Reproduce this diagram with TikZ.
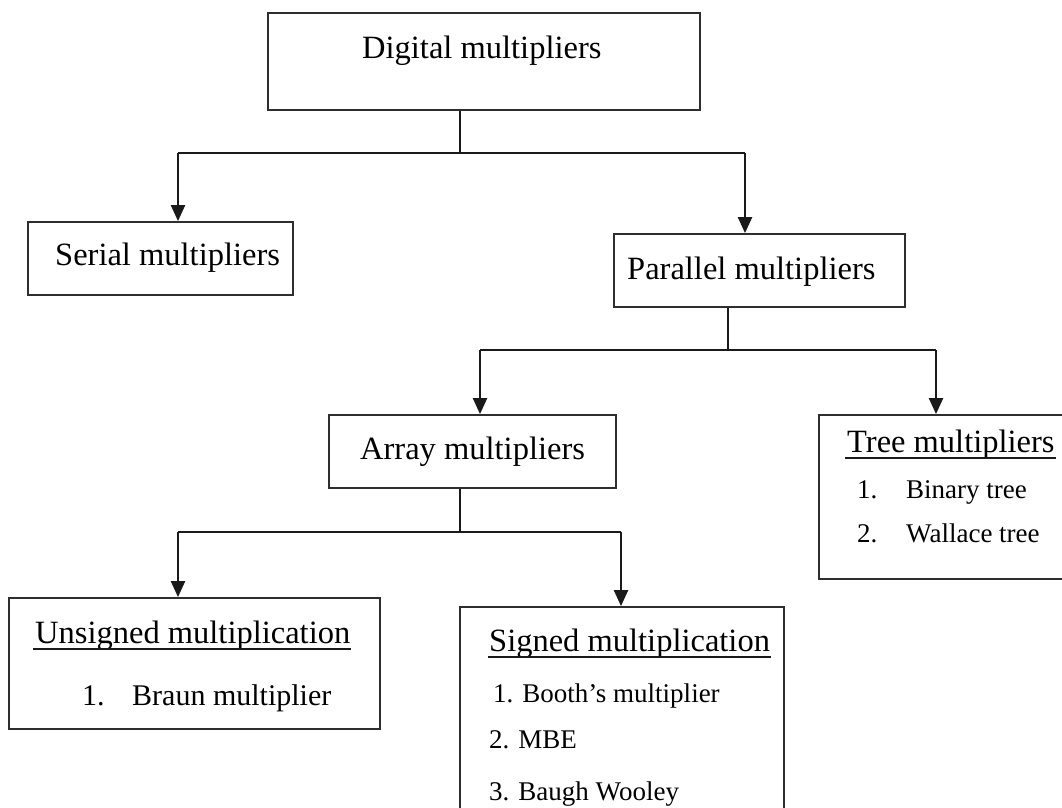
\documentclass[tikz,border=0pt]{standalone}
\usepackage{fontspec}
\setmainfont{Liberation Serif}
\usepackage{xcolor}
\usepackage{tikz}
\usetikzlibrary{arrows.meta,positioning,calc}
\definecolor{mlink}{HTML}{1A1A1A}
\definecolor{mlbox}{HTML}{2E2E2E}
\tikzset{
    blockbox/.style={rectangle, draw=mlbox, line width=1.8pt, inner sep=0pt},
    headtext/.style={font=\fontsize{32.5pt}{39pt}\selectfont,
        inner sep=0pt, anchor=base west},
    itemtext/.style={font=\fontsize{27pt}{32pt}\selectfont,
        inner sep=0pt, anchor=base west},
    treeline/.style={draw=mlink, line width=1.3pt},
    treearrow/.style={draw=mlink, line width=2.2pt,
        -{Triangle[length=16pt,width=14pt]}},
    underbar/.style={draw=mlink, line width=1.4pt},
}

\begin{document}
\begin{tikzpicture}[x=1pt, y=-1pt]

    \clip (0,0) rectangle (1062,807);

    % ── Boxes ──────────────────────────────────────────────────────────────
    \node[blockbox, minimum width=432pt, minimum height=97pt]  (digital)  at (484,61.5)  {};
    \node[blockbox, minimum width=265pt, minimum height=73pt]  (serial)   at (160.5,258.5) {};
    \node[blockbox, minimum width=291pt, minimum height=73pt]  (parallel) at (759.5,270.5) {};
    \node[blockbox, minimum width=287pt, minimum height=73pt]  (array)    at (472.5,451.5) {};
    \node[blockbox, minimum width=256pt, minimum height=164pt] (tree)     at (947,497)   {};
    \node[blockbox, minimum width=371pt, minimum height=131pt] (unsigned) at (194.5,663.5) {};
    \node[blockbox, minimum width=324pt, minimum height=223pt] (signed)   at (622,718.5) {};

    % ── Box titles ─────────────────────────────────────────────────────────
    \node[headtext] (digitaltxt)  at (362,58)  {Digital multipliers};
    \node[headtext] (serialtxt)   at (55,265)  {Serial multipliers};
    \node[headtext] (paralleltxt) at (627,279) {Parallel multipliers};
    \node[headtext] (arraytxt)    at (360,459) {Array multipliers};
    \node[headtext] (treetxt)     at (847,452) {Tree multipliers};
    \node[headtext] (unsignedtxt) at (35,643)  {Unsigned multiplication};
    \node[headtext] (signedtxt)   at (489,651) {Signed multiplication};

    % underlines
    \draw[underbar] ($(treetxt.base west)+(-2,6)$) -- ($(treetxt.base east)+(1,6)$);
    \draw[underbar] ($(unsignedtxt.base west)+(-2,6)$) -- ($(unsignedtxt.base east)+(1,6)$);
    \draw[underbar] ($(signedtxt.base west)+(-1,6)$) -- ($(signedtxt.base east)+(1,6)$);

    % ── Lists ──────────────────────────────────────────────────────────────
    \node[itemtext] (binary)  at (857,498) {\makebox[49pt][l]{1.}Binary tree};
    \node[itemtext] (wallace) at (857,542) {\makebox[49pt][l]{2.}Wallace tree};
    \node[itemtext, font=\fontsize{30pt}{36pt}\selectfont]
        (braun) at (82,705) {\makebox[50pt][l]{1.}Braun multiplier};
    \node[itemtext] (booth) at (493,702) {1. Booth’s multiplier};
    \node[itemtext] (mbe)   at (489,748) {2. MBE};
    \node[itemtext] (baugh) at (489,800) {3. Baugh Wooley};

    % ── Connectors ─────────────────────────────────────────────────────────
    \coordinate (dfork) at (460,153);
    \draw[treeline] (digital.south -| dfork) -- (dfork);
    \draw[treeline] (dfork) -- (dfork -| 178,0) (dfork) -- (dfork -| 745,0);
    \draw[treearrow] (dfork -| 178,0) -- ([xshift=17.5pt]serial.north);
    \draw[treearrow] (dfork -| 745,0) -- ([xshift=-14.5pt]parallel.north);

    \coordinate (pfork) at (728,350);
    \draw[treeline] (parallel.south -| pfork) -- (pfork);
    \draw[treeline] (pfork) -- (pfork -| 480,0) (pfork) -- (pfork -| 936,0);
    \draw[treearrow] (pfork -| 480,0) -- ([xshift=7.5pt]array.north);
    \draw[treearrow] (pfork -| 936,0) -- ([xshift=-11pt]tree.north);

    \coordinate (afork) at (460,532);
    \draw[treeline] (array.south -| afork) -- (afork);
    \draw[treeline] (afork) -- (afork -| 178,0) (afork) -- (afork -| 621,0);
    \draw[treearrow] (afork -| 178,0) -- ([xshift=-16.5pt]unsigned.north);
    \draw[treearrow] (afork -| 621,0) -- ([xshift=-1pt]signed.north);

\end{tikzpicture}
\end{document}
